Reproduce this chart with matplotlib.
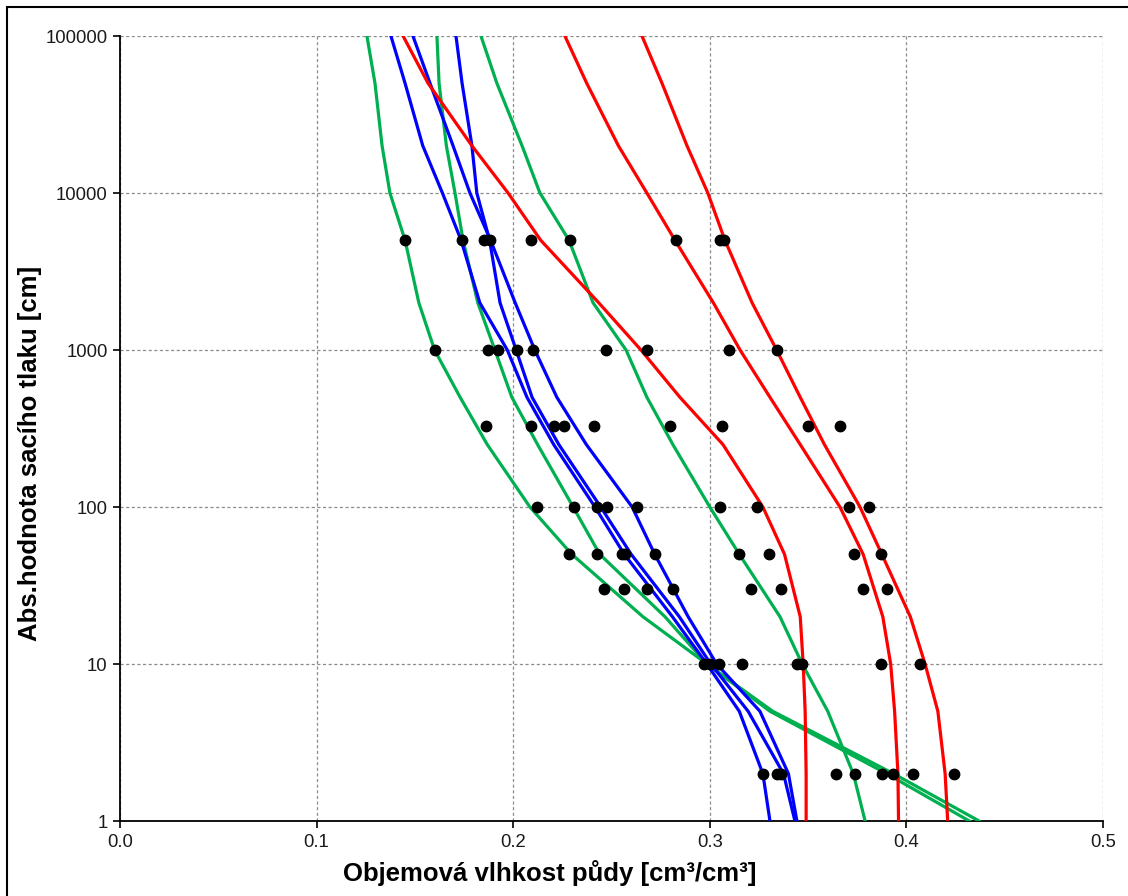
import matplotlib
matplotlib.use("Agg")
import matplotlib.pyplot as plt
from matplotlib.patches import Rectangle
from matplotlib.ticker import FixedLocator, FixedFormatter, NullLocator

plt.rcParams['font.family'] = ['Liberation Sans', 'DejaVu Sans']

# suction head levels [cm] at which the retention curves are tabulated
h_levels = [1, 2, 5, 10, 20, 50, 100, 250, 500, 1000, 2000, 5000, 10000, 20000, 50000, 100000]

# retention curves: volumetric water content at each suction level
green_a = [0.432, 0.390, 0.3306, 0.2986, 0.266, 0.2298, 0.2085, 0.1868, 0.173, 0.160, 0.152, 0.145, 0.1373, 0.1333, 0.1297, 0.1256]
green_b = [0.437, 0.3935, 0.332, 0.2985, 0.2772, 0.244, 0.2305, 0.2124, 0.1993, 0.1907, 0.182, 0.1745, 0.1704, 0.166, 0.1623, 0.1612]
green_c = [0.379, 0.373, 0.360, 0.347, 0.3357, 0.315, 0.300, 0.2812, 0.268, 0.2574, 0.2406, 0.2284, 0.2136, 0.2045, 0.1917, 0.1836]

blue_a = [0.3306, 0.327, 0.315, 0.2985, 0.281, 0.2565, 0.2416, 0.2206, 0.207, 0.197, 0.183, 0.1735, 0.164, 0.154, 0.145, 0.1378]
blue_b = [0.3443, 0.340, 0.3255, 0.3035, 0.289, 0.272, 0.2605, 0.2372, 0.2222, 0.211, 0.201, 0.1885, 0.178, 0.1694, 0.1577, 0.149]
blue_c = [0.3433, 0.3375, 0.3195, 0.3005, 0.2845, 0.260, 0.2445, 0.2232, 0.2096, 0.2015, 0.1933, 0.188, 0.1815, 0.179, 0.174, 0.1709]

red_a = [0.349, 0.349, 0.3485, 0.3475, 0.346, 0.338, 0.327, 0.3067, 0.2848, 0.265, 0.2435, 0.214, 0.1974, 0.179, 0.1567, 0.144]
red_b = [0.396, 0.3957, 0.394, 0.392, 0.388, 0.378, 0.3662, 0.346, 0.3306, 0.3154, 0.3018, 0.2823, 0.268, 0.2535, 0.2374, 0.2263]
red_c = [0.421, 0.4197, 0.416, 0.4095, 0.402, 0.3875, 0.3764, 0.3583, 0.346, 0.334, 0.3215, 0.3077, 0.299, 0.2884, 0.2757, 0.2655]

# measured points: suction level -> water contents
meas_5000 = [0.145, 0.174, 0.185, 0.188, 0.209, 0.229, 0.283, 0.305, 0.307]
meas_1000 = [0.160, 0.187, 0.1924, 0.2018, 0.2102, 0.2472, 0.2679, 0.3098, 0.334]
meas_330 = [0.186, 0.209, 0.221, 0.226, 0.241, 0.280, 0.306, 0.350, 0.366]
meas_100 = [0.212, 0.231, 0.2425, 0.2476, 0.263, 0.305, 0.324, 0.371, 0.381]
meas_50 = [0.2282, 0.2428, 0.2552, 0.2569, 0.2721, 0.3148, 0.3303, 0.3735, 0.3871]
meas_30 = [0.2462, 0.2564, 0.2682, 0.2811, 0.3208, 0.3361, 0.3781, 0.3903]
meas_10 = [0.297, 0.300, 0.3047, 0.3163, 0.3445, 0.347, 0.387, 0.407]
meas_2 = [0.3272, 0.334, 0.3362, 0.3642, 0.3739, 0.3878, 0.393, 0.4035, 0.4242]
measured = {5000: meas_5000, 1000: meas_1000, 330: meas_330, 100: meas_100,
            50: meas_50, 30: meas_30, 10: meas_10, 2: meas_2}

x_ticks = [0.0, 0.1, 0.2, 0.3, 0.4, 0.5]
x_tick_labels = ['0.0', '0.1', '0.2', '0.3', '0.4', '0.5']
y_ticks = [1, 10, 100, 1000, 10000, 100000]
y_tick_labels = ['1', '10', '100', '1000', '10000', '100000']

x_title = 'Objemová vlhkost půdy [cm³/cm³]'
y_title = 'Abs.hodnota sacího tlaku [cm]'

GREEN = '#00B050'
BLUE = '#0000FF'
RED = '#FF0000'

W, H = 1128, 896
fig = plt.figure(figsize=(W / 100, H / 100), dpi=100)
ax = fig.add_axes([120 / W, 1 - 821 / H, (1103 - 120) / W, (821 - 36) / H])

curves = [(green_a, GREEN), (green_b, GREEN), (green_c, GREEN),
          (blue_a, BLUE), (blue_b, BLUE), (blue_c, BLUE),
          (red_a, RED), (red_b, RED), (red_c, RED)]
for theta, col in curves:
    ax.plot(theta, h_levels, color=col, lw=2.3, zorder=3, solid_joinstyle='round')

for h, vals in measured.items():
    ax.plot(vals, [h] * len(vals), 'o', color='black', markersize=7.5,
            linestyle='none', zorder=4)

ax.set_yscale('log')
ax.set_xlim(0, 0.5)
ax.set_ylim(1, 100000)
ax.xaxis.set_major_locator(FixedLocator(x_ticks))
ax.xaxis.set_major_formatter(FixedFormatter(x_tick_labels))
ax.yaxis.set_major_locator(FixedLocator(y_ticks))
ax.yaxis.set_major_formatter(FixedFormatter(y_tick_labels))
ax.yaxis.set_minor_locator(NullLocator())

ax.grid(True, which='major', color='#8c8c8c', linestyle=(0, (2.5, 2)), lw=0.9, zorder=1)
for side in ('top', 'right'):
    ax.spines[side].set_visible(False)
for side in ('left', 'bottom'):
    ax.spines[side].set_linewidth(1.3)
ax.tick_params(axis='both', direction='out', length=5, width=1.2, labelsize=13.3,
               colors='black', labelcolor='#1a1a1a', pad=4)

# axis titles, placed in figure pixels
fig.text(550 / W, 1 - 873 / H, x_title, fontsize=18.5, fontweight='bold',
         ha='center', va='center')
fig.text(30 / W, 1 - 453 / H, y_title, fontsize=18.5, fontweight='bold',
         ha='center', va='center', rotation=90)

# outer frame of the chart
fig.patches.append(Rectangle((7 / W, -0.05), 1.2, 1 - 7 / H + 0.05,
                             transform=fig.transFigure, fill=False,
                             edgecolor='black', lw=1.5))

fig.savefig('out.png', dpi=100)
